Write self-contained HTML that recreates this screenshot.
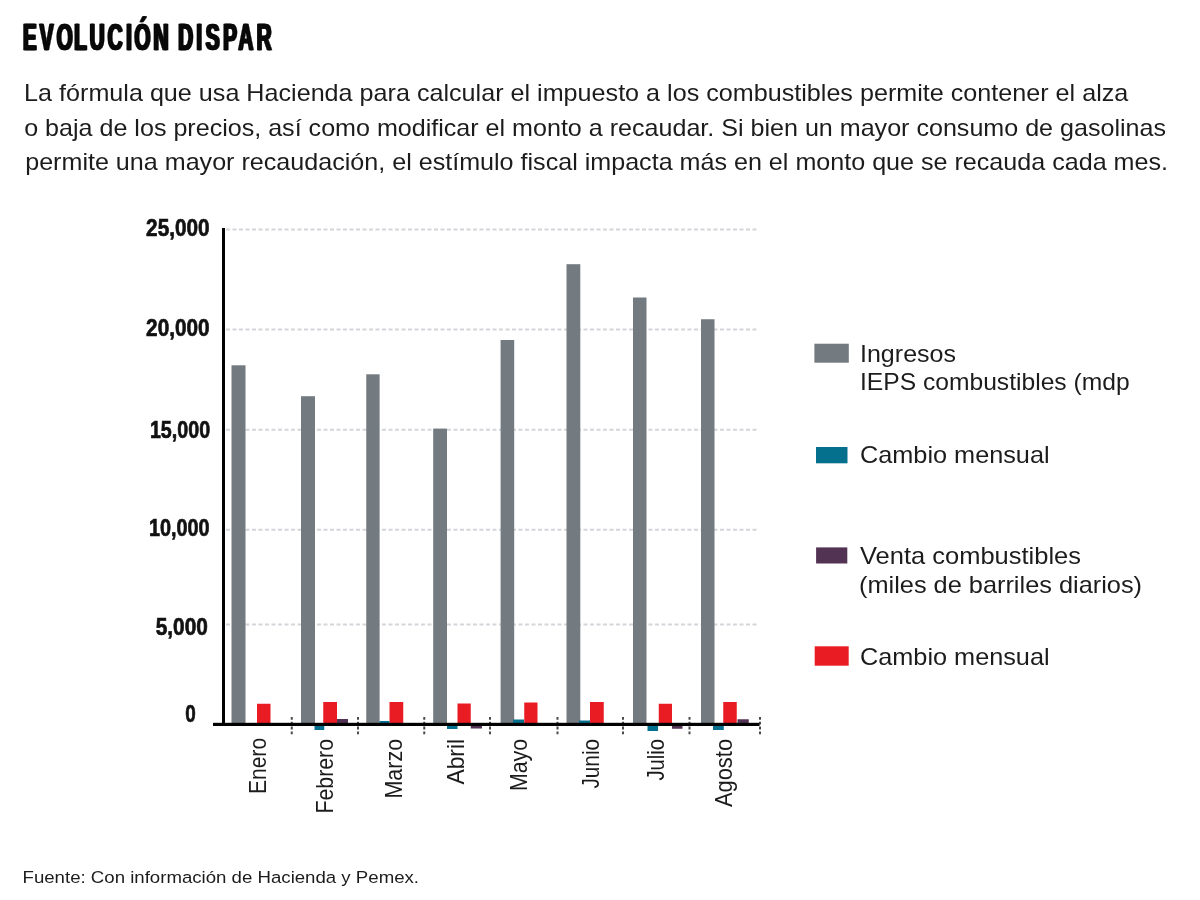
<!DOCTYPE html>
<html lang="es">
<head>
<meta charset="utf-8">
<title>Evolución dispar</title>
<style>
html,body{margin:0;padding:0;background:#fff;}
body{width:1200px;height:900px;overflow:hidden;position:relative;font-family:"Liberation Sans",sans-serif;}
svg{position:absolute;left:0;top:0;display:block;}
text{font-family:"Liberation Sans",sans-serif;}
.t{fill:#1c1c1c;}
.title{font-weight:bold;fill:#0a0a0a;stroke:#0a0a0a;stroke-width:0.5px;stroke-linejoin:round;text-shadow:1.3px 0 0 #0a0a0a,-1.3px 0 0 #0a0a0a;}
.yl{font-weight:bold;fill:#111;stroke:#111;stroke-width:0.7px;stroke-linejoin:round;}
</style>
</head>
<body>
<svg width="1200" height="900" viewBox="0 0 1200 900">
<rect x="0" y="0" width="1200" height="900" fill="#ffffff"/>

<text class="title" transform="translate(0,50.4) scale(0.55,1)" x="41.6 71.9 102.9 134.8 162.9 195.5 229.2 244.3 279.1 309.1 324.0 357.1 374.1 405.5 433.3 466.4" y="0" font-size="37.8">EVOLUCIÓN DISPAR</text>
<text class="t" x="24.1" y="101.4" font-size="23.6" textLength="1104.2" lengthAdjust="spacingAndGlyphs" text-anchor="start">La fórmula que usa Hacienda para calcular el impuesto a los combustibles permite contener el alza</text>
<text class="t" x="24.2" y="135.8" font-size="23.6" textLength="1141.8" lengthAdjust="spacingAndGlyphs" text-anchor="start">o baja de los precios, así como modificar el monto a recaudar. Si bien un mayor consumo de gasolinas</text>
<text class="t" x="25.2" y="170.3" font-size="23.6" textLength="1142.8" lengthAdjust="spacingAndGlyphs" text-anchor="start">permite una mayor recaudación, el estímulo fiscal impacta más en el monto que se recauda cada mes.</text>
<g stroke="#d2d5d9" stroke-width="2" stroke-dasharray="4 2.5" fill="none">
<line x1="226" y1="229.5" x2="757.5" y2="229.5"/>
<line x1="226" y1="329.5" x2="757.5" y2="329.5"/>
<line x1="226" y1="429.7" x2="757.5" y2="429.7"/>
<line x1="226" y1="529.8" x2="757.5" y2="529.8"/>
<line x1="226" y1="624.4" x2="757.5" y2="624.4"/>
</g>
<rect x="231.5" y="365.3" width="14.00" height="359.20" fill="#737a80"/>
<rect x="301" y="396.2" width="14.00" height="328.30" fill="#737a80"/>
<rect x="366.25" y="374.3" width="13.35" height="350.20" fill="#737a80"/>
<rect x="433.2" y="428.6" width="13.80" height="295.90" fill="#737a80"/>
<rect x="500.6" y="340" width="13.60" height="384.50" fill="#737a80"/>
<rect x="566.5" y="264.2" width="13.80" height="460.30" fill="#737a80"/>
<rect x="633" y="297.5" width="13.50" height="427.00" fill="#737a80"/>
<rect x="701" y="319.25" width="13.50" height="405.25" fill="#737a80"/>
<rect x="257" y="703.75" width="13.50" height="20.75" fill="#e91c24"/>
<rect x="323.25" y="702" width="13.75" height="22.50" fill="#e91c24"/>
<rect x="389.5" y="702" width="13.75" height="22.50" fill="#e91c24"/>
<rect x="457.5" y="703.5" width="13.25" height="21.00" fill="#e91c24"/>
<rect x="524.25" y="702.5" width="13.25" height="22.00" fill="#e91c24"/>
<rect x="590" y="702" width="13.75" height="22.50" fill="#e91c24"/>
<rect x="658.75" y="703.75" width="13.25" height="20.75" fill="#e91c24"/>
<rect x="723.25" y="702" width="13.50" height="22.50" fill="#e91c24"/>
<rect x="314.5" y="724" width="9.75" height="6.00" fill="#05708d"/>
<rect x="379.5" y="721" width="10.00" height="3.00" fill="#05708d"/>
<rect x="447" y="724" width="10.50" height="5.00" fill="#05708d"/>
<rect x="513" y="719.5" width="11.00" height="4.50" fill="#05708d"/>
<rect x="579" y="720.5" width="11.00" height="3.50" fill="#05708d"/>
<rect x="647.5" y="724" width="10.50" height="7.00" fill="#05708d"/>
<rect x="713" y="724" width="10.75" height="6.00" fill="#05708d"/>
<rect x="337" y="719" width="11.00" height="5.00" fill="#533353"/>
<rect x="470.75" y="724" width="11.25" height="4.50" fill="#533353"/>
<rect x="672" y="724" width="10.50" height="4.75" fill="#533353"/>
<rect x="737.5" y="719.25" width="11.25" height="4.75" fill="#533353"/>
<g stroke="#4a4a4a" stroke-width="2" stroke-dasharray="2.8 2" fill="none">
<line x1="291.75" y1="717" x2="291.75" y2="734.8"/>
<line x1="358" y1="717" x2="358" y2="734.8"/>
<line x1="424.25" y1="717" x2="424.25" y2="734.8"/>
<line x1="490" y1="717" x2="490" y2="734.8"/>
<line x1="557.5" y1="717" x2="557.5" y2="734.8"/>
<line x1="623" y1="717" x2="623" y2="734.8"/>
<line x1="689.5" y1="717" x2="689.5" y2="734.8"/>
<line x1="760" y1="717" x2="760" y2="734.8"/>
</g>
<rect x="222" y="228" width="3" height="497" fill="#000"/>
<rect x="213" y="722.8" width="546.5" height="3.2" fill="#000"/>
<text class="yl" x="146.1" y="236.4" font-size="24.8" textLength="63.5" lengthAdjust="spacingAndGlyphs">25,000</text>
<text class="yl" x="146.1" y="336.4" font-size="24.8" textLength="63.5" lengthAdjust="spacingAndGlyphs">20,000</text>
<text class="yl" x="149.9" y="438" font-size="24.8" textLength="60.2" lengthAdjust="spacingAndGlyphs">15,000</text>
<text class="yl" x="148.9" y="536.4" font-size="24.8" textLength="60.7" lengthAdjust="spacingAndGlyphs">10,000</text>
<text class="yl" x="155.7" y="635" font-size="24.8" textLength="52.1" lengthAdjust="spacingAndGlyphs">5,000</text>
<text class="yl" x="185.3" y="722" font-size="24.8" textLength="10.5" lengthAdjust="spacingAndGlyphs">0</text>
<text class="t" transform="translate(265.5,794.10) rotate(-90)" x="0" y="0" font-size="23.2" textLength="56.2" lengthAdjust="spacingAndGlyphs">Enero</text>
<text class="t" transform="translate(332.5,813.60) rotate(-90)" x="0" y="0" font-size="23.2" textLength="74.7" lengthAdjust="spacingAndGlyphs">Febrero</text>
<text class="t" transform="translate(402,798.60) rotate(-90)" x="0" y="0" font-size="23.2" textLength="59.7" lengthAdjust="spacingAndGlyphs">Marzo</text>
<text class="t" transform="translate(463.5,784.60) rotate(-90)" x="0" y="0" font-size="23.2" textLength="45.7" lengthAdjust="spacingAndGlyphs">Abril</text>
<text class="t" transform="translate(526.5,791.10) rotate(-90)" x="0" y="0" font-size="23.2" textLength="52.2" lengthAdjust="spacingAndGlyphs">Mayo</text>
<text class="t" transform="translate(599,788.60) rotate(-90)" x="0" y="0" font-size="23.2" textLength="49.7" lengthAdjust="spacingAndGlyphs">Junio</text>
<text class="t" transform="translate(664,780.60) rotate(-90)" x="0" y="0" font-size="23.2" textLength="41.7" lengthAdjust="spacingAndGlyphs">Julio</text>
<text class="t" transform="translate(731.5,807.10) rotate(-90)" x="0" y="0" font-size="23.2" textLength="68.2" lengthAdjust="spacingAndGlyphs">Agosto</text>
<rect x="814.4" y="343.7" width="34.4" height="19" fill="#737a80"/>
<rect x="816" y="447" width="31.5" height="16.3" fill="#05708d"/>
<rect x="816.1" y="547.4" width="31.2" height="16.1" fill="#533353"/>
<rect x="814.7" y="646.3" width="34" height="19.4" fill="#e91c24"/>
<text class="t" x="860" y="361.5" font-size="23.6" textLength="96" lengthAdjust="spacingAndGlyphs" text-anchor="start">Ingresos</text>
<text class="t" x="860" y="390.2" font-size="23.6" textLength="269.6" lengthAdjust="spacingAndGlyphs" text-anchor="start">IEPS combustibles (mdp</text>
<text class="t" x="860" y="463.3" font-size="23.6" textLength="189.6" lengthAdjust="spacingAndGlyphs" text-anchor="start">Cambio mensual</text>
<text class="t" x="860" y="564" font-size="23.6" textLength="221" lengthAdjust="spacingAndGlyphs" text-anchor="start">Venta combustibles</text>
<text class="t" x="859" y="592.7" font-size="23.6" textLength="283" lengthAdjust="spacingAndGlyphs" text-anchor="start">(miles de barriles diarios)</text>
<text class="t" x="860" y="665" font-size="23.6" textLength="189.6" lengthAdjust="spacingAndGlyphs" text-anchor="start">Cambio mensual</text>
<text class="t" x="22.5" y="882.9" font-size="17.2" textLength="396.5" lengthAdjust="spacingAndGlyphs" text-anchor="start">Fuente: Con información de Hacienda y Pemex.</text>
</svg>
</body>
</html>
